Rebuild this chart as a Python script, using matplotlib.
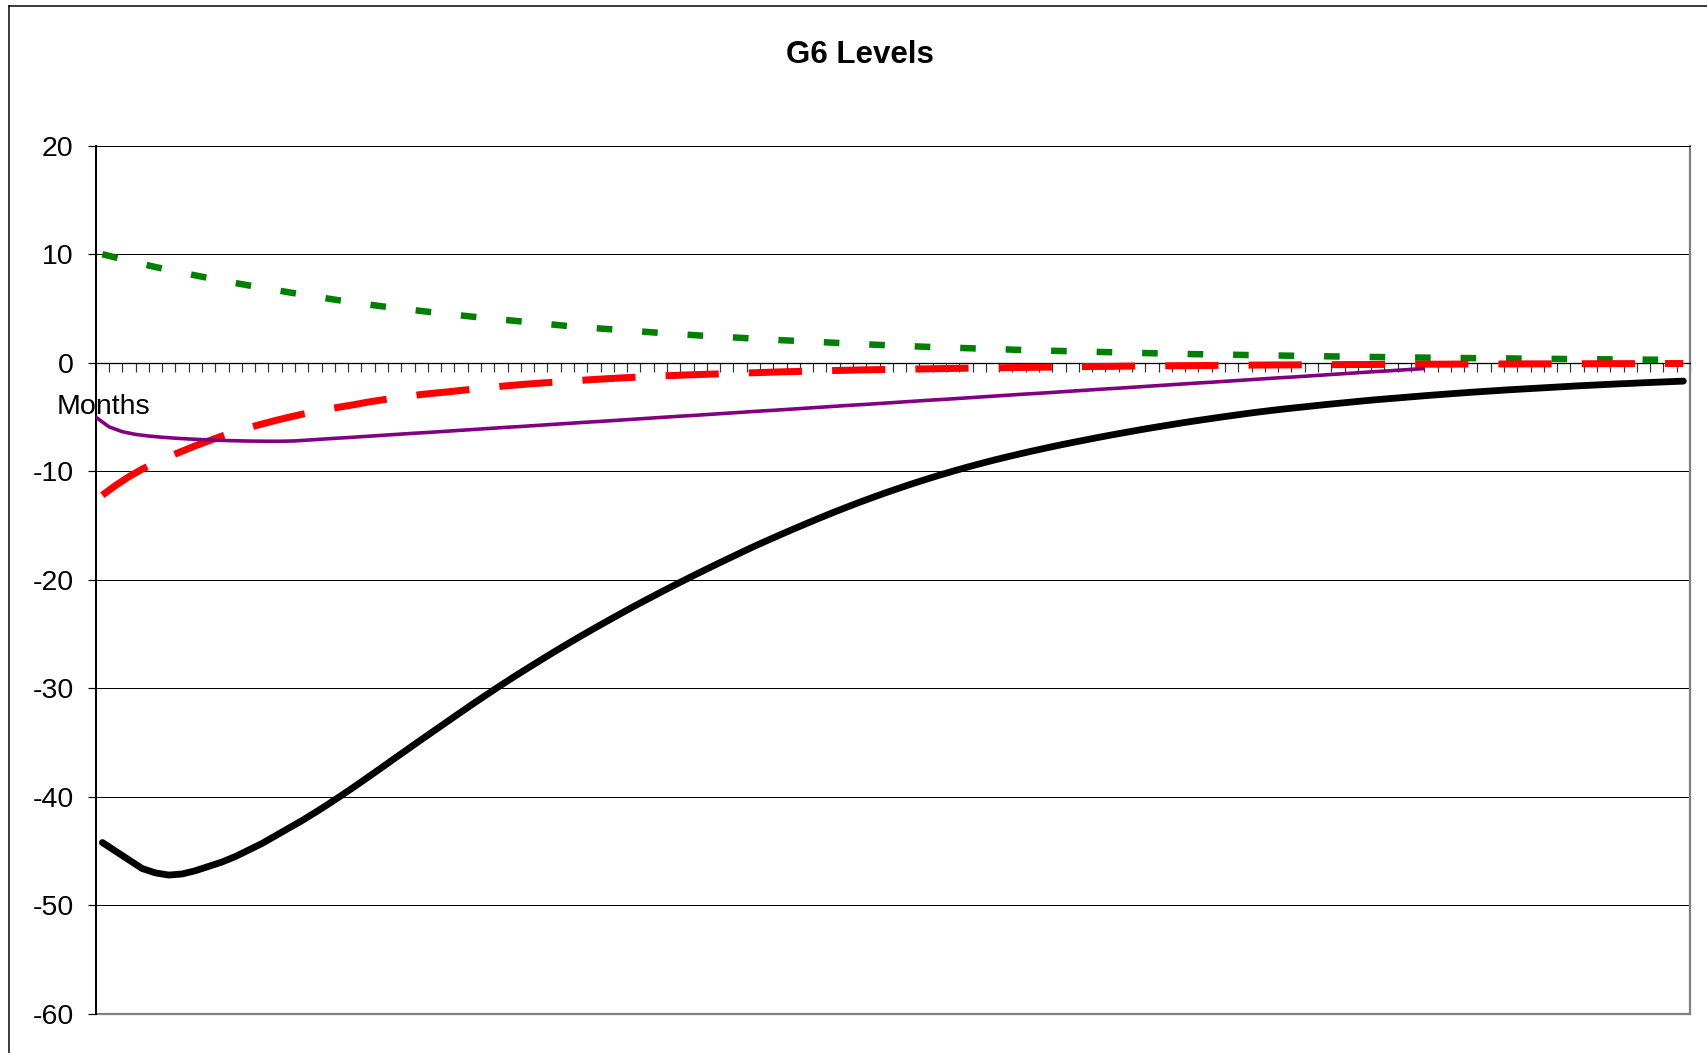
import numpy as np
import matplotlib
matplotlib.use("Agg")
import matplotlib.pyplot as plt
from matplotlib.lines import Line2D

plt.rcParams['font.family'] = ['Liberation Sans', 'DejaVu Sans']

title = "G6 Levels"
x_label = "Months"
months = list(range(1, 121))
y_ticks = [-60, -50, -40, -30, -20, -10, 0, 10, 20]

black_series = [
    -44.2, -45.0, -45.8, -46.6, -47.0, -47.2, -47.1, -46.8, -46.4, -46.0,
    -45.5, -44.9, -44.3, -43.6, -42.9, -42.2, -41.45, -40.67, -39.86, -39.03,
    -38.18, -37.32, -36.45, -35.59, -34.73, -33.88, -33.03, -32.18, -31.34, -30.52,
    -29.71, -28.92, -28.15, -27.39, -26.64, -25.91, -25.19, -24.49, -23.8, -23.12,
    -22.45, -21.8, -21.16, -20.53, -19.91, -19.3, -18.7, -18.11, -17.53, -16.95,
    -16.40, -15.86, -15.33, -14.81, -14.30, -13.80, -13.32, -12.85, -12.40, -11.96,
    -11.54, -11.13, -10.74, -10.36, -10.00, -9.65, -9.32, -9.00, -8.70, -8.41,
    -8.13, -7.86, -7.60, -7.35, -7.11, -6.87, -6.64, -6.42, -6.20, -5.99,
    -5.79, -5.59, -5.40, -5.22, -5.04, -4.87, -4.70, -4.54, -4.39, -4.25,
    -4.12, -3.99, -3.86, -3.74, -3.62, -3.50, -3.39, -3.29, -3.19, -3.09,
    -2.99, -2.90, -2.81, -2.72, -2.64, -2.56, -2.48, -2.41, -2.34, -2.27,
    -2.20, -2.13, -2.07, -2.01, -1.95, -1.90, -1.84, -1.79, -1.74, -1.69,
]

red_series = [
    -12.2, -11.3, -10.5, -9.8, -9.2, -8.65, -8.15, -7.65, -7.2, -6.75,
    -6.35, -5.98, -5.65, -5.33, -5.03, -4.75, -4.5, -4.27, -4.05, -3.85,
    -3.62, -3.43, -3.25, -3.1, -2.92, -2.8, -2.68, -2.55, -2.42, -2.3,
    -2.17, -2.06, -1.96, -1.87, -1.79, -1.7, -1.62, -1.54, -1.47, -1.4,
    -1.34, -1.28, -1.22, -1.17, -1.12, -1.08, -1.04, -1.0, -0.96, -0.92,
    -0.88, -0.84, -0.81, -0.78, -0.75, -0.72, -0.69, -0.66, -0.64, -0.62,
    -0.6, -0.58, -0.56, -0.54, -0.52, -0.5, -0.48, -0.47, -0.45, -0.43,
    -0.42, -0.4, -0.38, -0.37, -0.35, -0.34, -0.33, -0.31, -0.3, -0.29,
    -0.28, -0.27, -0.26, -0.25, -0.24, -0.23, -0.22, -0.21, -0.2, -0.2,
    -0.19, -0.18, -0.18, -0.17, -0.16, -0.16, -0.15, -0.15, -0.14, -0.14,
    -0.13, -0.13, -0.12, -0.12, -0.11, -0.11, -0.11, -0.1, -0.1, -0.1,
    -0.09, -0.09, -0.09, -0.08, -0.08, -0.08, -0.08, -0.07, -0.07, -0.07,
]

green_series = [
    10.0, 9.7, 9.4, 9.1, 8.82, 8.56, 8.3, 8.05, 7.81, 7.58,
    7.35, 7.13, 6.92, 6.71, 6.5, 6.3, 6.1, 5.91, 5.72, 5.54,
    5.37, 5.21, 5.06, 4.92, 4.77, 4.63, 4.49, 4.36, 4.23, 4.11,
    3.99, 3.87, 3.75, 3.63, 3.51, 3.39, 3.29, 3.2, 3.11, 3.02,
    2.93, 2.84, 2.75, 2.67, 2.59, 2.51, 2.44, 2.37, 2.3, 2.23,
    2.16, 2.09, 2.03, 1.97, 1.91, 1.85, 1.79, 1.73, 1.67, 1.62,
    1.57, 1.52, 1.47, 1.43, 1.39, 1.35, 1.31, 1.27, 1.23, 1.19,
    1.15, 1.12, 1.09, 1.06, 1.03, 1.0, 0.97, 0.94, 0.91, 0.88,
    0.85, 0.82, 0.8, 0.78, 0.76, 0.74, 0.72, 0.7, 0.68, 0.66,
    0.64, 0.62, 0.6, 0.58, 0.56, 0.54, 0.53, 0.51, 0.5, 0.48,
    0.47, 0.46, 0.44, 0.43, 0.42, 0.41, 0.4, 0.38, 0.37, 0.36,
    0.35, 0.34, 0.33, 0.32, 0.31, 0.3, 0.29, 0.28, 0.27, 0.26,
]

purple_series = [
    -5.0, -5.9, -6.35, -6.6, -6.75, -6.86, -6.95, -7.02, -7.08, -7.13,
    -7.17, -7.2, -7.22, -7.23, -7.23, -7.20, -7.12, -7.04, -6.96, -6.89,
    -6.81, -6.73, -6.65, -6.57, -6.49, -6.42, -6.34, -6.26, -6.18, -6.10,
    -6.02, -5.94, -5.87, -5.79, -5.71, -5.63, -5.55, -5.47, -5.40, -5.32,
    -5.24, -5.16, -5.08, -5.00, -4.92, -4.85, -4.77, -4.69, -4.61, -4.53,
    -4.45, -4.38, -4.30, -4.22, -4.14, -4.06, -3.98, -3.90, -3.83, -3.75,
    -3.67, -3.59, -3.51, -3.43, -3.36, -3.28, -3.20, -3.12, -3.04, -2.96,
    -2.88, -2.81, -2.73, -2.65, -2.57, -2.49, -2.41, -2.34, -2.26, -2.18,
    -2.10, -2.02, -1.94, -1.86, -1.79, -1.71, -1.63, -1.55, -1.47, -1.39,
    -1.32, -1.24, -1.16, -1.08, -1.00, -0.92, -0.84, -0.77, -0.69, -0.61,
    -0.53,
]

W, H = 1707, 1053
fig = plt.figure(figsize=(W / 100, H / 100), dpi=100)
fig.patch.set_facecolor('white')

left_px, right_px, top_px, bottom_px = 95.7, 1690.0, 145.7, 1014.0
ax = fig.add_axes([left_px / W, 1 - bottom_px / H,
                   (right_px - left_px) / W, (bottom_px - top_px) / H])
ax.set_xlim(0, len(months))
ax.set_ylim(min(y_ticks), max(y_ticks))

px = 0.72  # points per pixel at 100 dpi

# gridlines
for v in y_ticks:
    if v != 0:
        ax.axhline(v, color='black', lw=1.0 * px, zorder=1)

cat_x = np.arange(len(months)) + 0.5
tick_x = np.arange(len(purple_series))

ax.plot(cat_x, green_series, color='#008000', lw=6.5 * px,
        dashes=(2.4, 4.6), dash_capstyle='butt', zorder=3)
ax.plot(cat_x, red_series, color='#FF0000', lw=7 * px,
        dashes=(7.6, 4.3), dash_capstyle='butt', zorder=4)
ax.plot(tick_x, purple_series, color='#800080', lw=3.6 * px,
        solid_capstyle='butt', solid_joinstyle='round', zorder=5)
ax.plot(cat_x, black_series, color='black', lw=6.8 * px,
        solid_capstyle='round', solid_joinstyle='round', zorder=6)

# axes styling
ax.spines['bottom'].set_position(('data', 0))
ax.spines['bottom'].set_color('black')
ax.spines['bottom'].set_linewidth(1.3 * px)
ax.spines['left'].set_color('black')
ax.spines['left'].set_linewidth(2 * px)
ax.spines['top'].set_color('black')
ax.spines['top'].set_linewidth(1.0 * px)
ax.spines['right'].set_color('#808080')
ax.spines['right'].set_linewidth(2.2 * px)
ax.axhline(min(y_ticks), color='#808080', lw=2.2 * px, clip_on=False, zorder=2)

ax.set_xticks(np.arange(0, len(months) + 1))
ax.set_xticklabels([])
ax.tick_params(axis='x', direction='out', length=8.5 * px, width=1.2 * px,
               color='#333333')
ax.set_yticks(y_ticks)
ax.set_yticklabels([str(v) for v in y_ticks], fontsize=20.5)
ax.tick_params(axis='y', direction='out', length=8 * px, width=1.2 * px,
               color='black', pad=14 * px)

# titles
fig.text(860 / W, 1 - 55 / H, title, ha='center', va='center',
         fontsize=22.5, fontweight='bold')
fig.text(56.6 / W, 1 - 407 / H, x_label, ha='left', va='center',
         fontsize=20.5, zorder=10)

# outer chart border (partially visible)
fig.add_artist(Line2D([8.5 / W, 8.5 / W], [0, 1 - 5.5 / H],
                      transform=fig.transFigure, color='black', lw=1.5 * px))
fig.add_artist(Line2D([8.5 / W, 1], [1 - 5.5 / H, 1 - 5.5 / H],
                      transform=fig.transFigure, color='black', lw=1.5 * px))

fig.savefig('out.png', dpi=100, facecolor='white')
